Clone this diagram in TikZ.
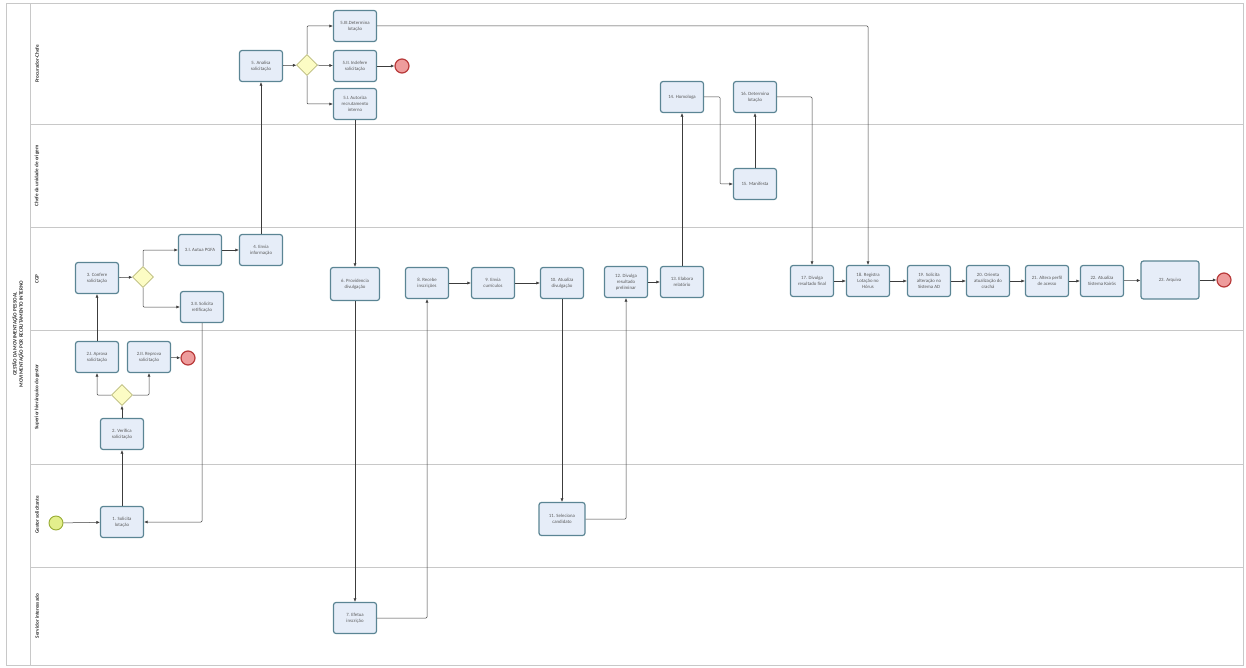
\documentclass[tikz,border=0pt]{standalone}
\usepackage{fontspec}
\setmainfont{Carlito}
\usepackage{xcolor}
\usepackage{tikz}
\usetikzlibrary{positioning,arrows.meta,shapes.geometric}
\definecolor{taskfill}{HTML}{E6EDF8}
\definecolor{taskline}{HTML}{5B8594}
\definecolor{gatefill}{HTML}{FCFCC4}
\definecolor{gateline}{HTML}{B9B97A}
\definecolor{startfill}{HTML}{E3EF8C}
\definecolor{startline}{HTML}{98AC34}
\definecolor{endfill}{HTML}{EE9C9C}
\definecolor{endline}{HTML}{B83A3A}
\definecolor{laneline}{HTML}{C8C8C8}
\definecolor{flowc}{HTML}{3C3C3C}

\begin{document}
\begin{tikzpicture}[x=1pt, y=-1pt,
  task/.style={draw=taskline, fill=taskfill, rounded corners=2.5pt, line width=1.2pt,
    minimum width=43pt, minimum height=31pt, align=center, inner sep=1pt,
    text=black!65, font=\fontsize{4.8}{6}\selectfont},
  gate/.style={diamond, draw=gateline, fill=gatefill, line width=0.7pt,
    minimum width=21pt, minimum height=21pt, inner sep=0pt},
  startev/.style={circle, draw=startline, fill=startfill, line width=0.9pt, minimum size=14pt, inner sep=0pt},
  endev/.style={circle, draw=endline, fill=endfill, line width=1.2pt, minimum size=14pt, inner sep=0pt},
  flow/.style={draw=flowc, line width=0.5pt, rounded corners=1pt, -{Latex[length=3.5pt,width=3pt]}},
  lanelabel/.style={rotate=90, font=\fontsize{5.2}{6.2}\selectfont\bfseries, text=black!80}]
  \useasboundingbox (0,0) rectangle (1246,668);

  % Pool and lanes
  \draw[laneline, line width=1pt] (6,4) rectangle (1243,665);
  \draw[laneline, line width=1pt] (30,4) -- (30,665);
  \foreach \ly in {125,228,330,464,567} {
    \draw[laneline, line width=1pt] (30,\ly) -- (1243,\ly);
  }
  \node[lanelabel, align=center] (pool) at (18,334)
    {GESTÃO DA MOVIMENTAÇÃO PESSOAL\\MOVIMENTAÇÃO POR RECRUTAMENTO INTERNO};
  \node[lanelabel] (lprocurador) at (37,64) {Procurador-Chefe};
  \node[lanelabel] (lchefe) at (37,176) {Chefe da unidade de origem};
  \node[lanelabel] (lcgp) at (37,279) {CGP};
  \node[lanelabel] (lsuperior) at (37,397) {Superior hierárquico do gestor};
  \node[lanelabel] (lgestor) at (37,515) {Gestor solicitante};
  \node[lanelabel] (lservidor) at (37,616) {Servidor interessado};

  % Gestor solicitante and superior
  \node[startev] (inicio) at (56,523) {};
  \node[task] (t1) at (122,522) {1. Solicita\\lotação};
  \node[task] (t2) at (122,434) {2. Verifica\\solicitação};
  \node[gate] (g2) at (122,395) {};
  \node[task] (t2a) at (97,357) {2.I. Aprova\\solicitação};
  \node[task] (t2b) at (149,357) {2.II. Reprova\\solicitação};
  \node[endev] (fim2) at (188,358) {};

  % CGP, first part
  \node[task] (t3) at (97,278) {3. Confere\\solicitação};
  \node[gate] (g3) at (143,277) {};
  \node[task] (t3a) at (200,250) {3.I. Autua PGFA};
  \node[task] (t3b) at (202,307) {3.II. Solicita\\retificação};
  \node[task] (t4) at (261,250) {4. Envia\\informação};

  % Procurador-Chefe
  \node[task] (t5) at (261,66) {5. Analisa\\solicitação};
  \node[gate] (g5) at (307,65) {};
  \node[task] (t5c) at (355,26) {5.III.Determina\\lotação};
  \node[task] (t5b) at (355,66) {5.II. Indefere\\solicitação};
  \node[endev] (fim5) at (402,66) {};
  \node[task] (t5a) at (355,104) {5.I. Autoriza\\recrutamento\\interno};

  % Divulgação e seleção
  \node[task, minimum width=49pt, minimum height=33pt] (t6) at (355,284) {6. Providencia\\divulgação};
  \node[task] (t7) at (355,618) {7. Efetua\\inscrição};
  \node[task] (t8) at (427,283) {8. Recebe\\inscrições};
  \node[task] (t9) at (493,283) {9. Envia\\currículos};
  \node[task] (t10) at (562,283) {10. Atualiza\\divulgação};
  \node[task, minimum width=46pt, minimum height=33pt] (t11) at (562,519) {11. Seleciona\\candidato};
  \node[task] (t12) at (626,282) {12. Divulga\\resultado\\preliminar};
  \node[task] (t13) at (682,282) {13. Elabora\\relatório};
  \node[task] (t14) at (682,97) {14. Homologa};
  \node[task] (t15) at (755,184) {15. Manifesta};
  \node[task] (t16) at (755,97) {16. Determina\\lotação};

  % CGP, final part
  \node[task] (t17) at (812,281) {17. Divulga\\resultado final};
  \node[task] (t18) at (868,281) {18. Registra\\Lotação no\\Hórus};
  \node[task] (t19) at (929,281) {19. Solicita\\alteração no\\Sistema AD};
  \node[task] (t20) at (988,281) {20. Orienta\\atualização do\\crachá};
  \node[task] (t21) at (1047,281) {21. Altera perfil\\de acesso};
  \node[task] (t22) at (1102,281) {22. Atualiza\\Sistema Kairós};
  \node[task, minimum width=58pt, minimum height=38pt] (t23) at (1170,280) {23. Arquiva};
  \node[endev] (fim23) at (1224,280) {};

  % Flows
  \draw[flow] (inicio) -- (t1);
  \draw[flow] (t1) -- (t2);
  \draw[flow] (t2) -- (g2);
  \draw[flow] (g2.west) -| (t2a);
  \draw[flow] (g2.east) -| (t2b);
  \draw[flow] (t2b) -- (fim2);
  \draw[flow] (t2a) -- (t3);
  \draw[flow] (t3) -- (g3);
  \draw[flow] (g3.north) |- (t3a);
  \draw[flow] (g3.south) |- (t3b);
  \draw[flow] (t3a) -- (t4);
  \draw[flow] (t3b) |- (t1);
  \draw[flow] (t4) -- (t5);
  \draw[flow] (t5) -- (g5);
  \draw[flow] (g5.north) |- (t5c);
  \draw[flow] (g5) -- (t5b);
  \draw[flow] (g5.south) |- (t5a);
  \draw[flow] (t5b) -- (fim5);
  \draw[flow] (t5c) -| (t18);
  \draw[flow] (t5a) -- (t6);
  \draw[flow] (t6) -- (t7);
  \draw[flow] (t7) -| (t8);
  \draw[flow] (t8) -- (t9);
  \draw[flow] (t9) -- (t10);
  \draw[flow] (t10) -- (t11);
  \draw[flow] (t11) -| (t12);
  \draw[flow] (t12) -- (t13);
  \draw[flow] (t13) -- (t14);
  \draw[flow] (t14.east) -- ++(16,0) |- (t15);
  \draw[flow] (t15) -- (t16);
  \draw[flow] (t16) -| (t17);
  \foreach \a/\b in {t17/t18,t18/t19,t19/t20,t20/t21,t21/t22,t22/t23,t23/fim23} {
    \draw[flow] (\a) -- (\b);
  }
\end{tikzpicture}
\end{document}
